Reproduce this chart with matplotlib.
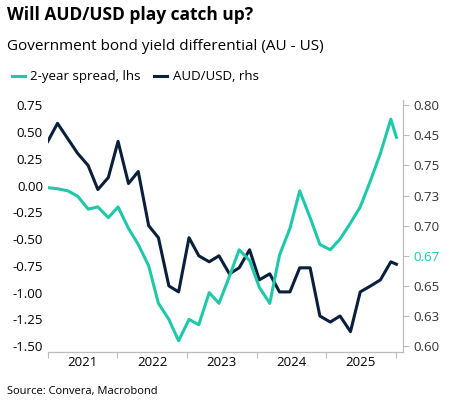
import matplotlib
matplotlib.use("Agg")
import matplotlib.pyplot as plt
import numpy as np

plt.rcParams['font.family'] = ['Open Sans', 'DejaVu Sans']

# decimal-year dates
dates = [2021.00, 2021.14, 2021.29, 2021.43, 2021.58, 2021.72, 2021.87, 2022.01, 2022.16,
         2022.30, 2022.45, 2022.59, 2022.74, 2022.88, 2023.03, 2023.17, 2023.32, 2023.46,
         2023.61, 2023.75, 2023.90, 2024.04, 2024.19, 2024.33, 2024.48, 2024.62, 2024.77,
         2024.91, 2025.06, 2025.20, 2025.35, 2025.49, 2025.64, 2025.78, 2025.93, 2026.01]
spread = [-0.02, -0.03, -0.05, -0.10, -0.22, -0.20, -0.30, -0.20, -0.40, -0.55, -0.75, -1.10,
          -1.25, -1.45, -1.25, -1.30, -1.00, -1.10, -0.85, -0.60, -0.70, -0.95, -1.10, -0.65,
          -0.40, -0.05, -0.30, -0.55, -0.60, -0.50, -0.35, -0.20, 0.05, 0.30, 0.62, 0.45]
audusd = [0.770, 0.785, 0.772, 0.760, 0.750, 0.730, 0.740, 0.770, 0.735, 0.745, 0.700, 0.690,
          0.650, 0.645, 0.690, 0.675, 0.670, 0.675, 0.660, 0.665, 0.680, 0.655, 0.660, 0.645,
          0.645, 0.665, 0.665, 0.625, 0.620, 0.625, 0.612, 0.645, 0.650, 0.655, 0.670, 0.668]

teal = '#1fc8a9'
navy = '#0a1f3c'
years = [2021, 2022, 2023, 2024, 2025]
left_ticks = np.arange(-1.5, 0.76, 0.25)
right_ticks = np.arange(0.6, 0.801, 0.025)
right_labels = ['0.60', '0.63', '0.65', '0.67', '0.70', '0.73', '0.75', '0.45', '0.80']

fig = plt.figure(figsize=(4.55, 4.16), dpi=100)
ax = fig.add_axes([0.105, 0.155, 0.78, 0.605])
ax2 = ax.twinx()
ax.plot(dates, spread, color=teal, lw=2.2, label='2-year spread, lhs')
ax2.plot(dates, audusd, color=navy, lw=2.2, label='AUD/USD, rhs')
ax.set_zorder(ax2.get_zorder() + 1)
ax.patch.set_visible(False)

ax.set_xlim(2021.0, 2026.1)
ax.set_ylim(-1.55, 0.8)
ax2.set_ylim(0.5955, 0.8045)
ax.set_yticks(left_ticks)
ax.set_yticklabels([f'{v:.2f}' for v in left_ticks], fontsize=9.5)
ax2.set_yticks(right_ticks)
ax2.set_yticklabels(right_labels, fontsize=9.5)
ax.set_xticks(years + [2026])
ax.set_xticklabels([])
ax.set_xticks([y + 0.5 for y in years], minor=True)
ax.set_xticklabels([str(y) for y in years], minor=True, fontsize=9.5)
ax.tick_params(axis='x', which='minor', length=0)
for a in (ax, ax2):
    a.spines['top'].set_visible(False)
    a.spines['left'].set_visible(False)
    a.spines['bottom'].set_color('#bbbbbb')
    a.spines['right'].set_color('#bbbbbb')
ax.tick_params(axis='y', length=0)
ax2.tick_params(axis='y', colors='#bbbbbb', labelcolor='#333333', length=4)
ax2.get_yticklabels()[3].set_color(teal)
ax.tick_params(axis='x', which='major', color='#bbbbbb', length=4)

fig.text(0.015, 0.965, 'Will AUD/USD play catch up?', fontsize=12.5, fontweight='bold', va='center')
fig.text(0.015, 0.888, 'Government bond yield differential (AU - US)', fontsize=11, va='center')
h1, l1 = ax.get_legend_handles_labels()
h2, l2 = ax2.get_legend_handles_labels()
fig.legend(h1 + h2, l1 + l2, loc='center left', bbox_to_anchor=(0.0, 0.815), ncol=2,
           frameon=False, fontsize=9.5, handlelength=1.0, columnspacing=1.0, handletextpad=0.4)
fig.text(0.015, 0.058, 'Source: Convera, Macrobond', fontsize=8, va='center')
fig.savefig('out.png', dpi=100)
